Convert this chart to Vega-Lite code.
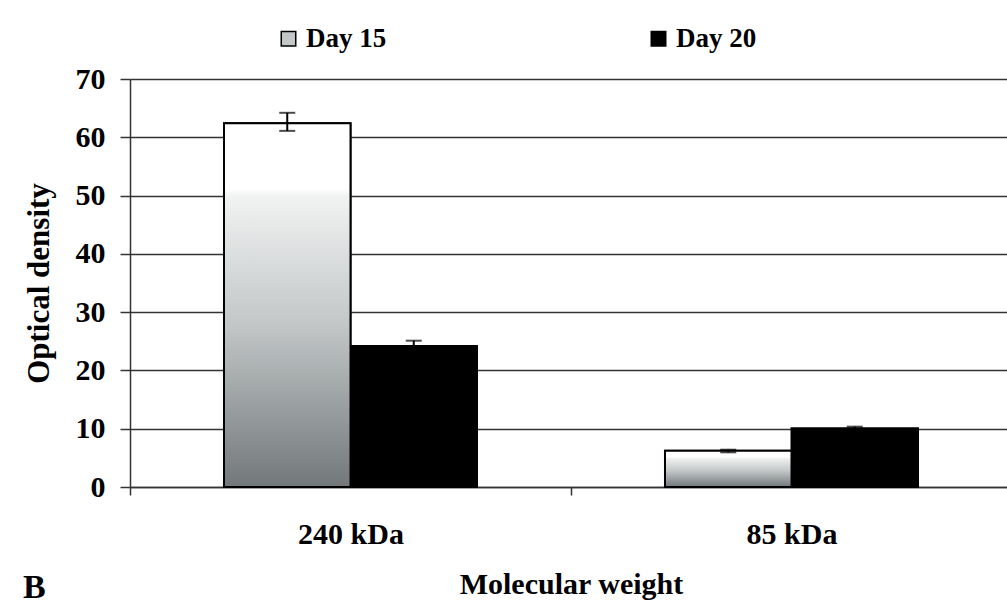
{
  "$schema": "https://vega.github.io/schema/vega-lite/v6.json",
  "width": 882,
  "height": 408,
  "autosize": {"type": "none"},
  "padding": {"left": 130, "top": 79, "right": 0, "bottom": 121},
  "background": "white",
  "title": {
    "text": "B",
    "orient": "bottom",
    "anchor": "start",
    "frame": "bounds",
    "offset": -28,
    "font": "Liberation Serif",
    "fontSize": 34,
    "fontWeight": "bold",
    "color": "black"
  },
  "config": {
    "view": {"stroke": null},
    "font": "Liberation Serif"
  },
  "data": {
    "values": [
      {"mw": "240 kDa", "day": "Day 15", "od": 62.4, "low": 61.1, "high": 64.2},
      {"mw": "240 kDa", "day": "Day 20", "od": 24.2, "low": 23.3, "high": 25.1},
      {"mw": "85 kDa", "day": "Day 15", "od": 6.2, "low": 5.95, "high": 6.4},
      {"mw": "85 kDa", "day": "Day 20", "od": 10.1, "low": 9.85, "high": 10.35}
    ]
  },
  "encoding": {
    "x": {
      "field": "mw",
      "type": "nominal",
      "sort": ["240 kDa", "85 kDa"],
      "scale": {"paddingInner": 0, "paddingOuter": 0},
      "axis": {
        "title": "Molecular weight",
        "titleFont": "Liberation Serif",
        "titleFontSize": 30,
        "titleFontWeight": "bold",
        "titleColor": "black",
        "titlePadding": 20,
        "labelFont": "Liberation Serif",
        "labelFontSize": 30,
        "labelFontWeight": "bold",
        "labelColor": "black",
        "labelAngle": 0,
        "labelPadding": 24,
        "tickBand": "extent",
        "tickSize": 8,
        "tickColor": "#333333",
        "tickWidth": 1.5,
        "domainColor": "#333333",
        "domainWidth": 1.5,
        "grid": false
      }
    },
    "xOffset": {
      "field": "day",
      "type": "nominal",
      "scale": {"paddingInner": 0, "paddingOuter": 0.743}
    }
  },
  "layer": [
    {
      "mark": {"type": "bar", "stroke": "black", "strokeWidth": 2},
      "encoding": {
        "y": {
          "field": "od",
          "type": "quantitative",
          "scale": {"domain": [0, 70], "nice": false},
          "axis": {
            "title": "Optical density",
            "titleFont": "Liberation Serif",
            "titleFontSize": 31,
            "titleFontWeight": "bold",
            "titleColor": "black",
            "titlePadding": 20,
            "labelFont": "Liberation Serif",
            "labelFontSize": 30,
            "labelFontWeight": "bold",
            "labelColor": "black",
            "labelPadding": 15,
            "values": [0, 10, 20, 30, 40, 50, 60, 70],
            "tickSize": 10,
            "tickColor": "#333333",
            "tickWidth": 1.5,
            "domainColor": "#333333",
            "domainWidth": 1.5,
            "grid": true,
            "gridColor": "#333333",
            "gridWidth": 1.5
          }
        },
        "color": {
          "field": "day",
          "type": "nominal",
          "scale": {"domain": ["Day 15", "Day 20"], "range": ["#c4c7c8", "#000000"]},
          "legend": {
            "title": null,
            "orient": "none",
            "legendX": 145,
            "legendY": -54,
            "direction": "horizontal",
            "symbolType": "square",
            "symbolSize": 210,
            "symbolStrokeColor": "black",
            "symbolStrokeWidth": 1.5,
            "labelFont": "Liberation Serif",
            "labelFontSize": 27,
            "labelFontWeight": "bold",
            "labelColor": "black",
            "labelOffset": 4,
            "columnPadding": 258
          }
        }
      }
    },
    {
      "transform": [{"filter": "datum.day === 'Day 15'"}],
      "mark": {
        "type": "bar",
        "stroke": "black",
        "strokeWidth": 2,
        "fill": {
          "gradient": "linear",
          "x1": 0, "y1": 0, "x2": 0, "y2": 1,
          "stops": [
            {"offset": 0, "color": "#ffffff"},
            {"offset": 0.18, "color": "#ffffff"},
            {"offset": 0.2, "color": "#f1f2f2"},
            {"offset": 0.55, "color": "#c3c7c8"},
            {"offset": 1, "color": "#72787a"}
          ]
        }
      },
      "encoding": {
        "y": {"field": "od", "type": "quantitative"}
      }
    },
    {
      "mark": {"type": "rule", "color": "black", "strokeWidth": 2},
      "encoding": {
        "y": {"field": "low", "type": "quantitative"},
        "y2": {"field": "high"}
      }
    },
    {
      "mark": {"type": "tick", "color": "black", "size": 16, "thickness": 2},
      "encoding": {
        "y": {"field": "low", "type": "quantitative"}
      }
    },
    {
      "mark": {"type": "tick", "color": "black", "size": 16, "thickness": 2},
      "encoding": {
        "y": {"field": "high", "type": "quantitative"}
      }
    }
  ]
}
